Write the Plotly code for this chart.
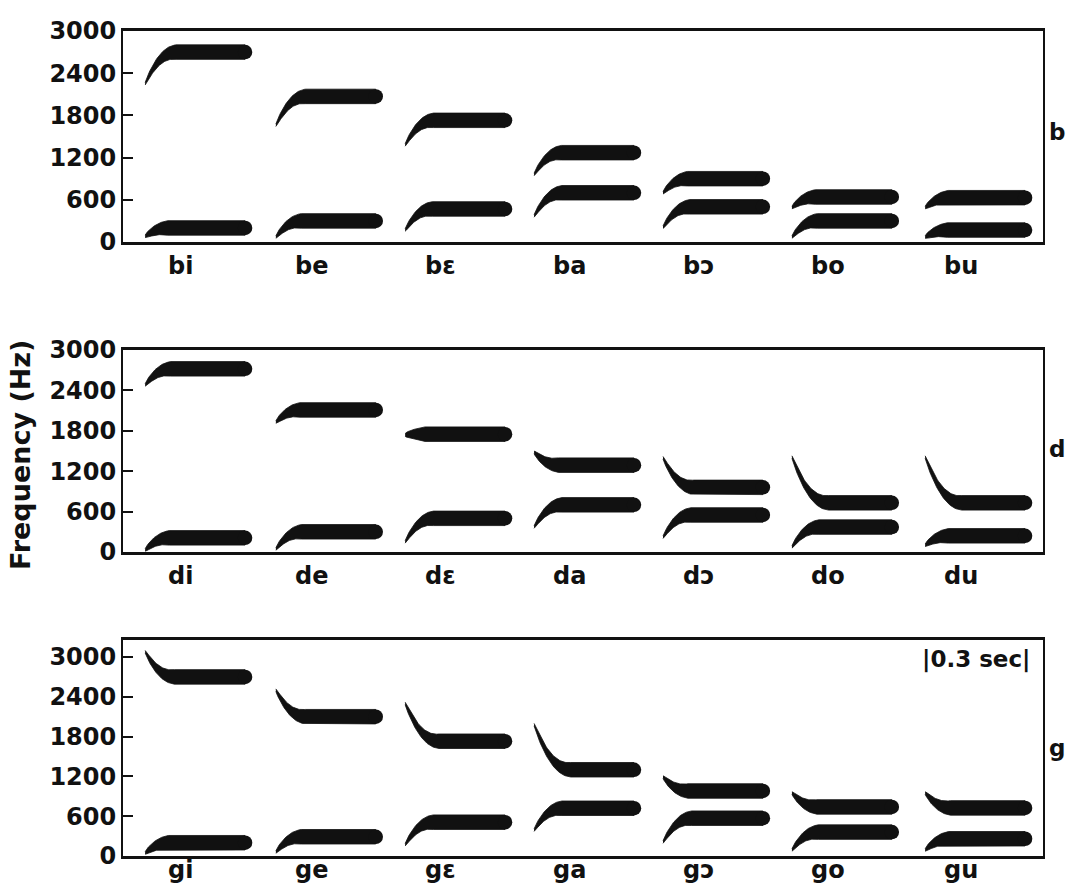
import numpy as np
import plotly.graph_objects as go

# ---------------- data ----------------
VOWELS = ["i", "e", "ɛ", "a", "ɔ", "o", "u"]
CONSONANTS = ["b", "d", "g"]
ONSET_MS = [62, 428, 790, 1151, 1512, 1873, 2246]   # start of each pattern
DURATION_MS = 300                                    # length of each pattern
Y_TICKS = [0, 600, 1200, 1800, 2400, 3000]

# formant onset / steady-state frequencies (Hz), one list per consonant
B_F1_ONSET = [80, 70, 170, 370, 210, 70, 70]
B_F1_STEADY = [200, 300, 470, 700, 500, 300, 170]
B_F2_ONSET = [2250, 1660, 1380, 960, 700, 490, 490]
B_F2_STEADY = [2700, 2070, 1730, 1270, 900, 640, 630]

D_F1_ONSET = [30, 45, 150, 370, 220, 75, 100]
D_F1_STEADY = [210, 300, 500, 700, 550, 370, 240]
D_F2_ONSET = [2480, 1930, 1740, 1480, 1400, 1410, 1410]
D_F2_STEADY = [2720, 2110, 1750, 1290, 960, 730, 730]

G_F1_ONSET = [45, 60, 170, 390, 210, 90, 90]
G_F1_STEADY = [200, 290, 510, 720, 570, 360, 260]
G_F2_ONSET = [3080, 2500, 2300, 1980, 1190, 950, 950]
G_F2_STEADY = [2700, 2100, 1730, 1300, 980, 740, 725]

# ---------------- layout geometry ----------------
W, H = 1066, 890
X_RANGE = [0, 2576]
X_DOMAIN = [123 / W, 1043 / W]
PANELS = [
    dict(cons="b", y_dom=[(H - 242) / H, (H - 31) / H], y_range=[0, 3000],
         f1=(B_F1_ONSET, B_F1_STEADY), f2=(B_F2_ONSET, B_F2_STEADY),
         side_y=132, label_y=266),
    dict(cons="d", y_dom=[(H - 552) / H, (H - 350) / H], y_range=[0, 3000],
         f1=(D_F1_ONSET, D_F1_STEADY), f2=(D_F2_ONSET, D_F2_STEADY),
         side_y=449, label_y=576),
    dict(cons="g", y_dom=[(H - 856) / H, (H - 640) / H], y_range=[0, 3256],
         f1=(G_F1_ONSET, G_F1_STEADY), f2=(G_F2_ONSET, G_F2_STEADY),
         side_y=748, label_y=870),
]

BAR_PX = 14.5     # thickness of steady-state bars
TIP_PX = 2.5      # thickness at onset of transition
INK = "#111111"
FONT = "DejaVu Sans"

ms_per_px = (X_RANGE[1] - X_RANGE[0]) / ((X_DOMAIN[1] - X_DOMAIN[0]) * W)

fig = go.Figure()


def add_formant(fig, xa, ya, t0, f0, fs, hz_per_px):
    r_ms = BAR_PX / 2 * ms_per_px
    t_end = t0 + DURATION_MS - r_ms
    trans = 55 + 0.07 * abs(f0 - fs)
    u = np.linspace(0, 1, 40)
    t_tr = t0 + u * trans
    f_tr = fs + (f0 - fs) * (1 - u) ** 2.2
    h_tr = TIP_PX + (BAR_PX - TIP_PX) * u ** 0.6
    t = np.concatenate([t_tr, [t_end]])
    f = np.concatenate([f_tr, [fs]])
    h = np.concatenate([h_tr, [BAR_PX]]) * hz_per_px
    up = f + h / 2
    lo = f - h / 2
    fig.add_trace(go.Scatter(
        x=np.concatenate([t, t[::-1]]), y=np.concatenate([up, lo[::-1]]),
        mode="lines", fill="toself", fillcolor=INK,
        line=dict(color=INK, width=0.8), xaxis=xa, yaxis=ya,
        hoverinfo="skip", showlegend=False))
    fig.add_trace(go.Scatter(
        x=[t_end], y=[fs], mode="markers",
        marker=dict(size=BAR_PX, color=INK, line=dict(width=0)),
        xaxis=xa, yaxis=ya, hoverinfo="skip", showlegend=False))


def note(text, x, y, size, xref="paper", angle=0, xanchor="center"):
    fig.add_annotation(text=text, xref=xref, yref="paper", x=x, y=y,
                       xanchor=xanchor, yanchor="middle", textangle=angle,
                       showarrow=False, borderpad=0,
                       font=dict(family=FONT, size=size, color=INK, weight="bold"))


for k, p in enumerate(PANELS):
    n = "" if k == 0 else str(k + 1)
    xa, ya = "x" + n, "y" + n
    h_px = (p["y_dom"][1] - p["y_dom"][0]) * H
    hz_per_px = (p["y_range"][1] - p["y_range"][0]) / h_px
    for j in range(len(VOWELS)):
        for onset, steady in (p["f1"], p["f2"]):
            add_formant(fig, xa, ya, ONSET_MS[j], onset[j], steady[j], hz_per_px)

    fig.layout["xaxis" + n] = dict(
        domain=X_DOMAIN, range=X_RANGE, anchor=ya, automargin=False,
        showticklabels=False, ticks="", showgrid=False, zeroline=False,
        showline=True, linecolor=INK, linewidth=3, mirror=True)
    fig.layout["yaxis" + n] = dict(
        domain=p["y_dom"], range=p["y_range"], anchor=xa, automargin=False,
        tickvals=Y_TICKS, ticktext=[str(v) for v in Y_TICKS],
        ticks="inside", ticklen=10, tickwidth=2, tickcolor=INK,
        showgrid=False, zeroline=False,
        showline=True, linecolor=INK, linewidth=2, mirror=True,
        tickfont=dict(family=FONT, size=24, color=INK, weight="bold"),
        ticklabelstandoff=0)
    # syllable labels under each pattern
    for j, v in enumerate(VOWELS):
        note(p["cons"] + v, ONSET_MS[j] + 100, (H - p["label_y"]) / H, 24, xref=xa)
    # consonant label at the right
    note(p["cons"], 1066 / W, (H - p["side_y"]) / H, 23, xanchor="right")

note("Frequency (Hz)", 20 / W, (H - 455) / H, 27, angle=-90)
note("|0.3 sec|", 976 / W, (H - 659) / H, 23)

fig.update_layout(width=W, height=H, margin=dict(l=0, r=0, t=0, b=0),
                  paper_bgcolor="white", plot_bgcolor="white", showlegend=False)

fig.write_html("out.html")
